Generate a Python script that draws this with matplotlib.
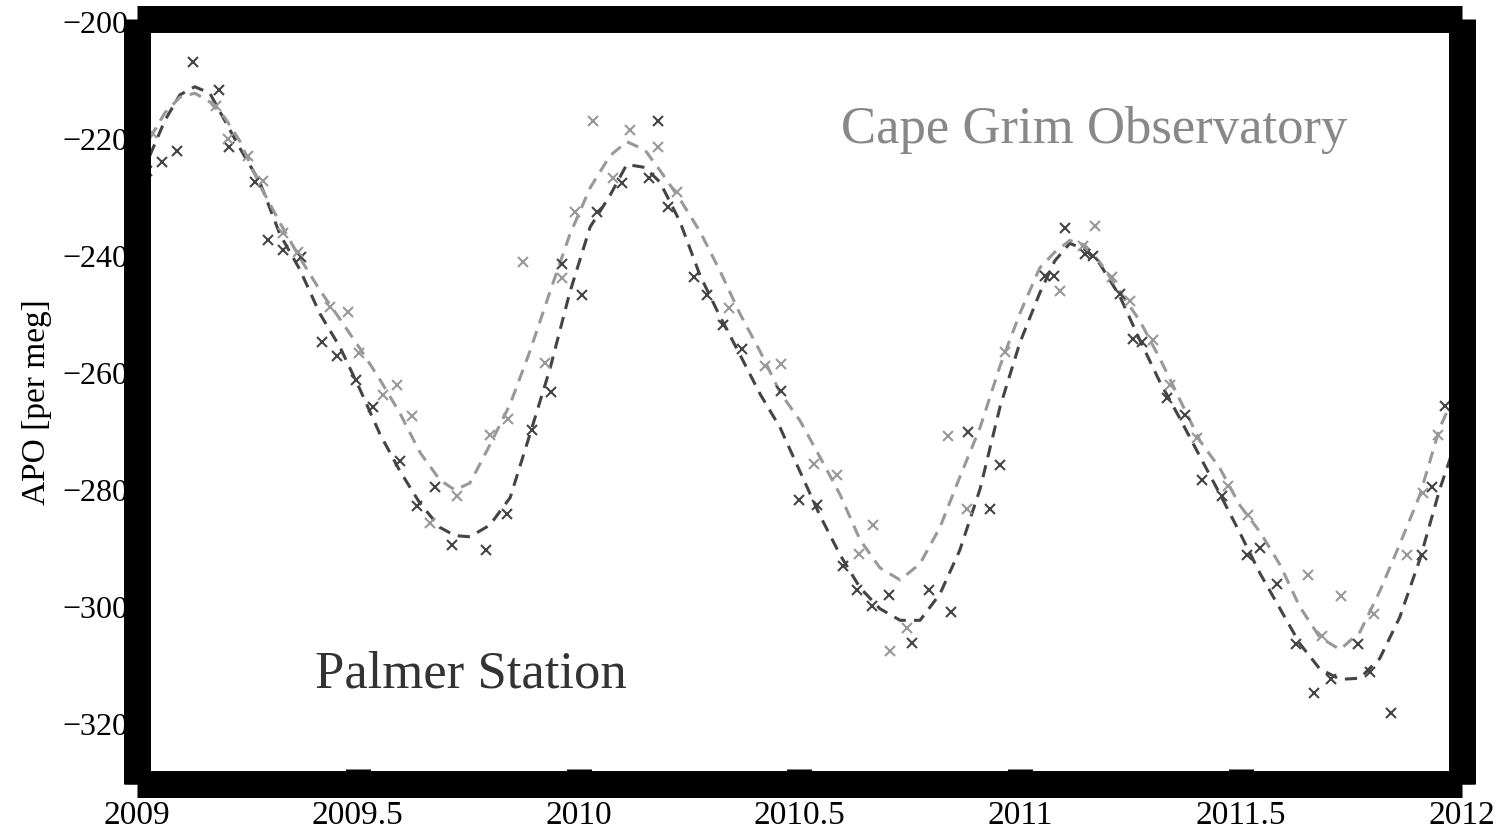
import numpy as np
import matplotlib
matplotlib.use("Agg")
import matplotlib.pyplot as plt

plt.rcParams['font.family'] = ['Liberation Serif', 'DejaVu Serif']

# monthly flask samples, APO in per meg
palmer_t = [2009.023, 2009.057, 2009.091, 2009.127, 2009.186, 2009.208, 2009.267, 2009.297,
            2009.331, 2009.371, 2009.419, 2009.453, 2009.496, 2009.534, 2009.595, 2009.634,
            2009.675, 2009.713, 2009.790, 2009.838, 2009.894, 2009.937, 2009.962, 2010.007,
            2010.041, 2010.098, 2010.159, 2010.180, 2010.202, 2010.261, 2010.290, 2010.327,
            2010.370, 2010.458, 2010.499, 2010.540, 2010.598, 2010.630, 2010.664, 2010.703,
            2010.755, 2010.793, 2010.843, 2010.881, 2010.931, 2010.954, 2011.056, 2011.076,
            2011.101, 2011.146, 2011.164, 2011.226, 2011.255, 2011.275, 2011.332, 2011.373,
            2011.411, 2011.456, 2011.513, 2011.542, 2011.581, 2011.624, 2011.665, 2011.703,
            2011.764, 2011.792, 2011.839, 2011.909, 2011.932, 2011.961]
palmer_apo = [-225.6, -224.1, -222.2, -207.0, -211.8, -221.5, -227.5, -237.5,
              -239.1, -240.3, -254.9, -257.3, -261.3, -266.0, -275.3, -282.9,
              -279.7, -289.6, -290.4, -284.3, -270.0, -263.5, -241.5, -246.9,
              -232.6, -227.6, -226.8, -217.1, -231.7, -243.7, -246.9, -251.9,
              -256.1, -263.3, -281.9, -282.8, -293.2, -297.3, -300.0, -298.1,
              -306.3, -297.3, -301.0, -270.3, -283.4, -275.9, -243.5, -243.5,
              -235.3, -239.8, -240.1, -246.6, -254.3, -254.8, -264.5, -267.4,
              -278.5, -281.2, -291.3, -290.1, -296.2, -306.5, -315.0, -312.6,
              -306.5, -311.4, -318.4, -291.3, -279.7, -265.9]

grim_t = [2009.034, 2009.179, 2009.206, 2009.251, 2009.285, 2009.331, 2009.365, 2009.437,
          2009.478, 2009.503, 2009.557, 2009.589, 2009.623, 2009.663, 2009.725, 2009.799,
          2009.840, 2009.874, 2009.924, 2009.962, 2009.992, 2010.032, 2010.078, 2010.116,
          2010.180, 2010.223, 2010.340, 2010.422, 2010.458, 2010.533, 2010.585, 2010.635,
          2010.666, 2010.705, 2010.743, 2010.836, 2010.879, 2010.965, 2011.090, 2011.142,
          2011.169, 2011.207, 2011.248, 2011.300, 2011.339, 2011.400, 2011.470, 2011.515,
          2011.651, 2011.683, 2011.726, 2011.801, 2011.875, 2011.912, 2011.946]
grim_apo = [-219.1, -214.5, -220.1, -223.0, -227.3, -236.3, -239.4, -248.8,
            -249.7, -256.7, -264.0, -262.3, -267.6, -285.8, -281.2, -270.8,
            -268.1, -241.1, -258.4, -244.0, -232.6, -217.1, -226.8, -218.6,
            -221.5, -229.2, -249.0, -258.9, -258.7, -275.8, -277.6, -291.1,
            -286.2, -307.7, -303.8, -271.0, -283.4, -256.5, -246.2, -238.4,
            -235.0, -243.7, -247.8, -254.6, -262.3, -271.3, -279.5, -284.5,
            -294.7, -305.1, -298.3, -301.5, -291.3, -280.7, -270.8]

# smoothed seasonal fits
fit_t = [2009.029, 2009.063, 2009.097, 2009.131, 2009.165, 2009.199, 2009.233, 2009.278,
         2009.324, 2009.369, 2009.414, 2009.460, 2009.505, 2009.550, 2009.595, 2009.641,
         2009.686, 2009.720, 2009.754, 2009.799, 2009.845, 2009.890, 2009.935, 2009.980,
         2010.026, 2010.071, 2010.109, 2010.150, 2010.184, 2010.229, 2010.275, 2010.320,
         2010.365, 2010.411, 2010.456, 2010.501, 2010.546, 2010.592, 2010.637, 2010.682,
         2010.728, 2010.773, 2010.818, 2010.863, 2010.909, 2010.954, 2010.999, 2011.044,
         2011.078, 2011.112, 2011.146, 2011.180, 2011.225, 2011.271, 2011.316, 2011.361,
         2011.407, 2011.452, 2011.497, 2011.543, 2011.588, 2011.633, 2011.678, 2011.724,
         2011.769, 2011.814, 2011.859, 2011.905, 2011.950, 2011.995]
palmer_fit = [-223.0, -217.0, -212.6, -211.2, -212.3, -217.0, -221.7, -227.5,
              -236.5, -242.5, -250.0, -255.8, -263.0, -270.6, -276.9, -282.5,
              -286.6, -288.0, -288.2, -286.2, -281.5, -270.6, -259.5, -246.4,
              -235.2, -229.8, -224.5, -225.0, -227.5, -234.2, -243.5, -250.5,
              -257.0, -263.8, -269.5, -277.0, -284.5, -291.3, -296.9, -300.5,
              -302.5, -302.5, -298.0, -290.5, -280.0, -266.0, -255.0, -246.5,
              -241.0, -238.0, -239.0, -241.5, -247.0, -254.6, -261.7, -267.9,
              -274.5, -280.9, -287.5, -294.5, -300.5, -306.5, -310.8, -312.6,
              -312.4, -309.0, -302.0, -292.0, -280.0, -270.0]
grim_fit = [-220.0, -215.7, -213.0, -212.3, -213.8, -216.5, -220.5, -228.0,
            -234.5, -240.5, -246.0, -251.0, -256.0, -261.3, -267.0, -273.8,
            -278.5, -280.2, -279.0, -272.5, -265.5, -256.4, -246.3, -236.5,
            -228.5, -223.0, -220.6, -222.0, -225.5, -230.4, -236.0, -242.7,
            -250.0, -256.5, -263.5, -268.3, -274.5, -281.0, -288.7, -293.5,
            -295.6, -292.8, -286.6, -278.0, -269.5, -259.0, -250.0, -242.2,
            -239.5, -237.5, -238.3, -241.2, -246.2, -251.3, -257.7, -264.7,
            -271.8, -276.5, -282.8, -287.4, -293.0, -300.2, -305.4, -307.5,
            -304.5, -297.5, -289.5, -281.0, -269.5, -262.0]

xticks = [2009, 2009.5, 2010, 2010.5, 2011, 2011.5, 2012]
xticklabels = ["2009", "2009.5", "2010", "2010.5", "2011", "2011.5", "2012"]
yticks = [-320, -300, -280, -260, -240, -220, -200]

dark = "#444444"
light = "#999999"
dashes = (0, (4, 2.7))

fig = plt.figure(figsize=(15.05, 8.29), dpi=100)
ax = fig.add_axes([0.091, 0.0531, 0.8804, 0.9228])

ax.plot(fit_t, palmer_fit, color=dark, lw=2.2, linestyle=dashes)
ax.plot(fit_t, grim_fit, color=light, lw=2.2, linestyle=dashes)
ax.plot(palmer_t, palmer_apo, "x", color=dark, ms=7.5, mew=1.5)
ax.plot(grim_t, grim_apo, "x", color=light, ms=7.5, mew=1.5)

ax.text(0.134, 0.127, "Palmer Station", transform=ax.transAxes, fontsize=38,
        color="#333333", ha="left", va="baseline")
ax.text(0.531, 0.839, "Cape Grim Observatory", transform=ax.transAxes, fontsize=38,
        color="#888888", ha="left", va="baseline")

ax.set_xlim(2009, 2012)
ax.set_ylim(-330.5, -199.6)
ax.set_xticks(xticks)
ax.set_xticklabels(xticklabels)
ax.set_yticks(yticks)
ax.set_ylabel("APO [per meg]", fontsize=24, labelpad=8)

for side in ["left", "right", "top", "bottom"]:
    ax.spines[side].set_linewidth(19.4)
    ax.spines[side].set_capstyle("butt")
ax.tick_params(axis="x", direction="in", length=11, width=18, labelsize=24, pad=11,
               top=False)
ax.tick_params(axis="y", direction="in", length=0, labelsize=23, pad=6, right=False)

fig.savefig("out.png", dpi=100)
